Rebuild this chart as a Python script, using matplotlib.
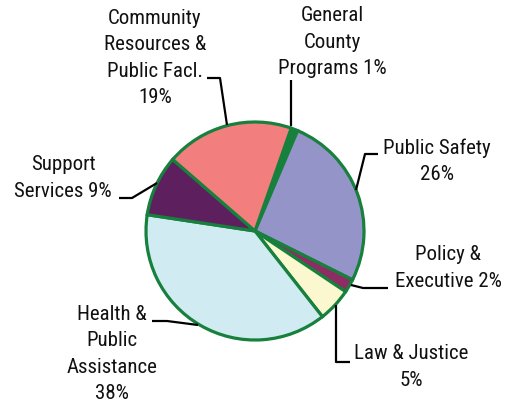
import matplotlib.pyplot as plt

plt.rcParams['font.family'] = ['Roboto Condensed', 'Archivo Narrow', 'PT Sans Narrow', 'DejaVu Sans']

# Budget shares, clockwise from the top of the pie
NAMES = [
    "General\nCounty\nPrograms",
    "Public Safety\n",
    "Policy &\nExecutive",
    "Law & Justice\n",
    "Health &\nPublic\nAssistance\n",
    "Support\nServices",
    "Community\nResources &\nPublic Facl.\n",
]
SHARES = [1, 26, 2, 5, 38, 9, 19]
COLORS = ["#17803d", "#9494c8", "#8e2c63", "#fbf7cf", "#d0ebf1", "#5e1f5f", "#f37e7e"]

# label centres and leader lines in pixel coords (y down)
LABEL_POS = [(332, 42), (437, 161), (448, 268), (411, 367), (112, 354), (63, 178), (155, 58)]
LEADERS = [
    [(291, 80), (291, 126)],
    [(378, 154), (365, 154), (356, 190)],
    [(388, 288), (363, 288), (351, 285)],
    [(350, 362), (336, 362), (336, 305)],
    [(152, 321), (167, 321), (198, 325)],
    [(119, 198), (132, 198), (157, 183)],
    [(207, 78), (220, 78), (227, 125)],
]

GREEN = "#17803d"

fig = plt.figure(figsize=(5.06, 4.04), dpi=100)
ax = fig.add_axes([0, 0, 1, 1])

ax.pie(SHARES, colors=COLORS, center=(255, 231), radius=109,
       startangle=-70.6, counterclock=True,
       wedgeprops=dict(edgecolor=GREEN, linewidth=2.3))

for name, share, (x, y) in zip(NAMES, SHARES, LABEL_POS):
    if name.endswith("\n"):
        text = f"{name}{share}%"
    else:
        text = f"{name} {share}%"
    ax.text(x, y, text, ha="center", va="center", fontsize=15,
            linespacing=1.47, color="#111111")

for pts in LEADERS:
    xs, ys = zip(*pts)
    ax.plot(xs, ys, color="black", linewidth=1.6, solid_capstyle="butt")

ax.set_xlim(0, 506)
ax.set_ylim(404, 0)
ax.set_aspect("equal")
ax.axis("off")

fig.savefig("out.png", dpi=100, facecolor="white")
